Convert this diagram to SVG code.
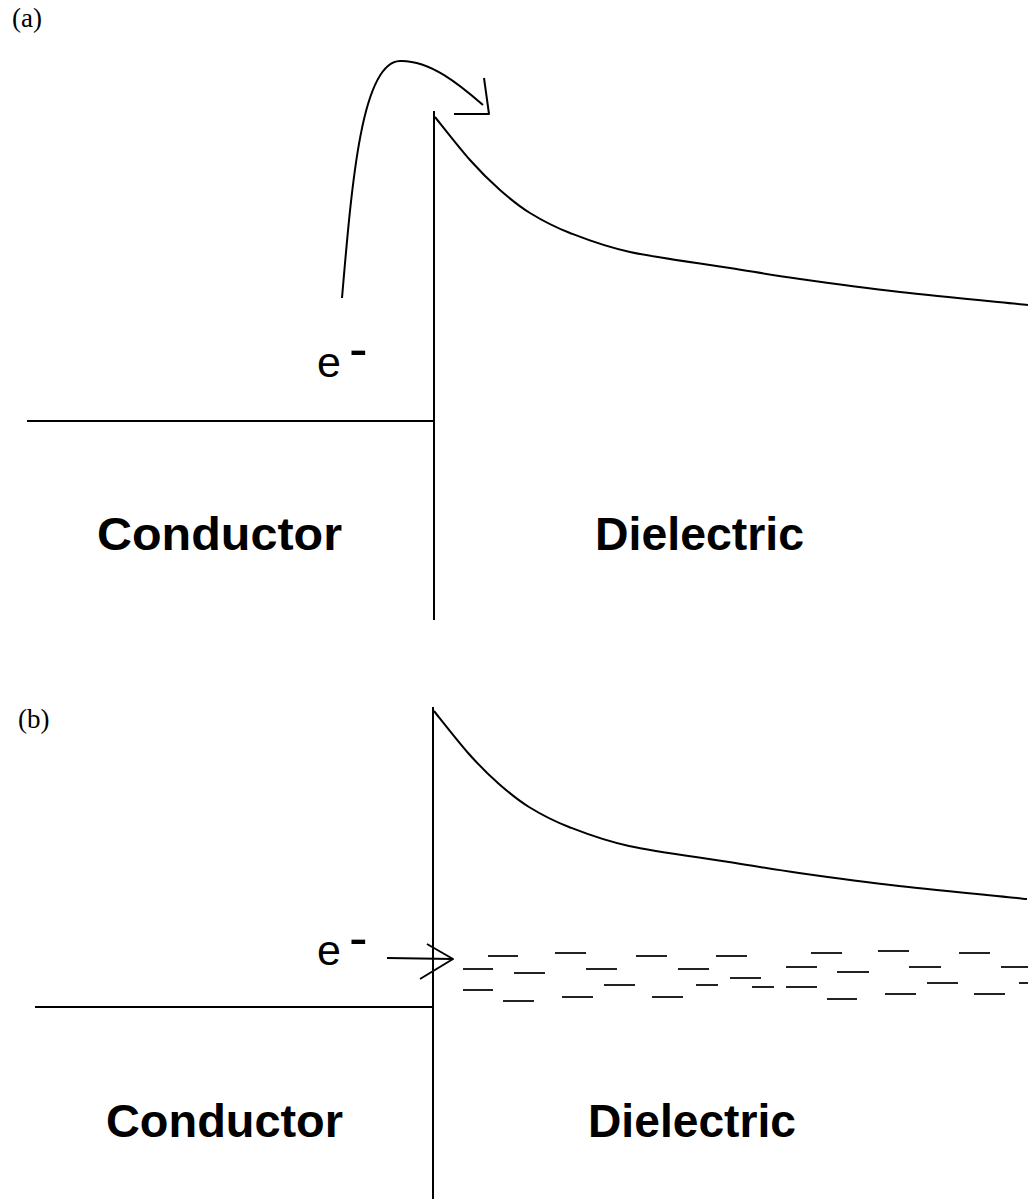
<svg xmlns="http://www.w3.org/2000/svg" width="1028" height="1199" viewBox="0 0 1028 1199">
<style>
.ln{stroke:#000;stroke-width:2;fill:none;stroke-linecap:butt;stroke-linejoin:round}
.ds{stroke:#222;stroke-width:2.2;fill:none}
.lab{font-family:"Liberation Serif","Times New Roman",serif;font-size:27px;fill:#000}
.big{font-family:"Liberation Sans",Arial,sans-serif;font-weight:bold;font-size:46px;fill:#000}
.el{font-family:"Liberation Sans",Arial,sans-serif;font-size:43px;fill:#000}
.mn{font-size:56px}
</style>
<rect width="1028" height="1199" fill="#fff"/>
<defs>
<path id="barrier" d="M435,117 C440.8,124.2 459.2,147.8 470,160 C480.8,172.2 490,181.2 500,190 C510,198.8 518.3,205.8 530,213 C541.7,220.2 553.3,226.5 570,233 C586.7,239.5 603.3,246.2 630,252 C656.7,257.8 701.7,263.5 730,268 C758.3,272.5 771.7,275 800,279 C828.3,283 862,287.7 900,292 C938,296.3 1006.7,302.8 1028,305"/>
</defs>
<g id="panel-a">
<text id="label-a" class="lab" x="12" y="27">(a)</text>
<g id="interface-a"><line class="ln" x1="434" y1="111" x2="434" y2="620"/></g>
<g id="fermi-a"><line class="ln" x1="27" y1="421" x2="434" y2="421"/></g>
<g id="barrier-a"><use href="#barrier" class="ln"/></g>
<g id="electron-a"><text class="el" x="317" y="377">e<tspan class="mn" x="349" y="368">-</tspan></text></g>
<g id="conductor-a"><text class="big" x="97" y="550" textLength="245" lengthAdjust="spacingAndGlyphs">Conductor</text></g>
<g id="dielectric-a"><text class="big" x="595" y="550" textLength="209" lengthAdjust="spacingAndGlyphs">Dielectric</text></g>
</g>
<g id="panel-b">
<text id="label-b" class="lab" x="18" y="728">(b)</text>
<g id="interface-b"><line class="ln" x1="433" y1="707" x2="433" y2="1199"/></g>
<g id="fermi-b"><line class="ln" x1="35" y1="1007" x2="433" y2="1007"/></g>
<g id="barrier-b"><use href="#barrier" class="ln" transform="translate(-1,594)"/></g>
<g id="electron-b"><text class="el" x="317" y="965">e<tspan class="mn" x="349" y="957">-</tspan></text></g>
<g id="conductor-b"><text class="big" x="106" y="1137" textLength="237" lengthAdjust="spacingAndGlyphs">Conductor</text></g>
<g id="dielectric-b"><text class="big" x="588" y="1137" textLength="208" lengthAdjust="spacingAndGlyphs">Dielectric</text></g>
<g id="traps">
<path class="ds" d="M463,969h30M488,956h30M514,973h31M463,990h30M503,1001h31
M555,953h31M636,956h31M716,956h31M586,969h31M678,969h31M730,978h31M604,985h31M696,985h22M752,987h22M562,997h31M652,997h31
M811,953h31M878,951h31M959,953h31M786,967h31M837,972h32M909,967h32M1001,967h27M786,987h31M927,983h31M1019,983h9M827,999h30M885,994h31M974,994h31"/>
</g>
</g>
<g id="connectors">
<path class="ln" d="M342,298 C352,180 362,62 400,61 C430,60 460,85 483,105"/>
<path class="ln" d="M484,78 L489,114 L454,114"/>
<path class="ln" d="M387,958 L453,959"/>
<path class="ln" d="M427,944 L453,959 L420,979"/>
</g>
</svg>
